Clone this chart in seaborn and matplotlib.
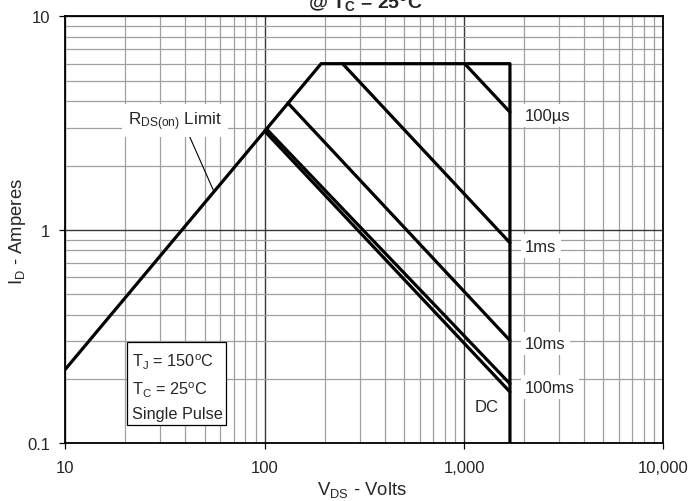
import numpy as np
import pandas as pd
import seaborn as sns
import matplotlib.pyplot as plt
from matplotlib.patches import Rectangle
from matplotlib.ticker import LogLocator, NullFormatter

# Safe operating area outline: R_DS(on) limit, current limit, voltage limit
soa_v = [10, 192, 1700, 1700]
soa_i = [0.222, 6.0, 6.0, 0.1]

# Single pulse lines, from start point down to the voltage limit
pulse_labels = ['100µs', '1ms', '10ms', '100ms', 'DC']
pulse_v_start = [1008, 246, 131, 102, 100]
pulse_i_start = [6.0, 6.0, 3.92, 2.97, 2.90]
pulse_i_end = [3.56, 0.869, 0.303, 0.190, 0.174]
v_max = 1700

x_ticks = [10, 100, 1000, 10000]
x_tick_labels = ['10', '100', '1,000', '10,000']
y_ticks = [0.1, 1, 10]
y_tick_labels = ['0.1', '1', '10']

sns.set_style('ticks')
plt.rcParams['font.family'] = ['Liberation Sans', 'DejaVu Sans']
plt.rcParams['mathtext.fontset'] = 'custom'
plt.rcParams['mathtext.rm'] = 'Liberation Sans'
plt.rcParams['mathtext.it'] = 'Liberation Sans:italic'
plt.rcParams['mathtext.bf'] = 'Liberation Sans:bold'
plt.rcParams['mathtext.default'] = 'rm'

fig = plt.figure(figsize=(6.91, 5.02), dpi=100)
ax = fig.add_axes([0.0945, 0.115, 0.8655, 0.8505])
ax.set_xscale('log')
ax.set_yscale('log')

# outline
soa = pd.DataFrame({'V': soa_v, 'I': soa_i})
sns.lineplot(data=soa, x='V', y='I', sort=False, estimator=None,
             color='black', lw=2.3, ax=ax, zorder=4)

# pulse lines
for lab, v0, i0, i1 in zip(pulse_labels, pulse_v_start, pulse_i_start, pulse_i_end):
    seg = pd.DataFrame({'V': [v0, v_max], 'I': [i0, i1]})
    sns.lineplot(data=seg, x='V', y='I', sort=False, estimator=None,
                 color='black', lw=2.3, ax=ax, zorder=4)
    if lab == 'DC':
        ax.text(v_max * 0.767, i1 * 0.856, lab, ha='center', va='center', fontsize=12)
    else:
        ax.text(v_max * 1.19, i1 * 0.965, lab, ha='left', va='center', fontsize=12,
                bbox=dict(facecolor='white', edgecolor='none', pad=3), zorder=5)

# R_DS(on) label with leader line
ax.text(35.5, 3.25, 'R$_{DS(on)}$ Limit', ha='center', va='center', fontsize=12.3,
        bbox=dict(facecolor='white', edgecolor='none', pad=4), zorder=5)
v_lead = 55.7
i_lead = 10 ** np.interp(np.log10(v_lead), np.log10(soa_v[:2]), np.log10(soa_i[:2]))
ax.annotate('', xy=(v_lead, i_lead), xytext=(41.9, 2.75),
            arrowprops=dict(arrowstyle='-', lw=0.8, color='black', shrinkA=0, shrinkB=0))

# conditions box
ax.add_patch(Rectangle((0.1027, 0.043), 0.1653, 0.1935, transform=ax.transAxes,
                       facecolor='white', edgecolor='black', lw=0.9, zorder=5))
ax.text(0.111, 0.193, 'T$_J$ = 150$^o$C', transform=ax.transAxes, va='center', fontsize=11.7, zorder=6)
ax.text(0.111, 0.127, 'T$_C$ = 25$^o$C', transform=ax.transAxes, va='center', fontsize=11.7, zorder=6)
ax.text(0.111, 0.069, 'Single Pulse', transform=ax.transAxes, va='center', fontsize=11.7, zorder=6)

# axes, ticks and grid
ax.set_xlim(10, 10000)
ax.set_ylim(0.1, 10)
ax.set_xticks(x_ticks, x_tick_labels)
ax.set_yticks(y_ticks, y_tick_labels)
ax.xaxis.set_minor_locator(LogLocator(base=10, subs=np.arange(2, 10)))
ax.yaxis.set_minor_locator(LogLocator(base=10, subs=np.arange(2, 10)))
ax.xaxis.set_minor_formatter(NullFormatter())
ax.yaxis.set_minor_formatter(NullFormatter())
ax.grid(which='minor', color='#a0a0a0', lw=0.9)
ax.grid(which='major', color='#383838', lw=1.0)
ax.set_axisbelow(True)
ax.tick_params(which='minor', length=0)
ax.tick_params(which='major', length=4, width=0.9, direction='out', color='black',
               labelsize=12, bottom=True, left=True)
ax.tick_params(axis='x', pad=8)
ax.tick_params(axis='y', pad=7)
for s in ax.spines.values():
    s.set_visible(True)
    s.set_color('black')
    s.set_linewidth(1.3)

ax.set_xlabel('')
ax.set_ylabel('')
fig.text(0.5235, 0.0139, 'V$_{DS}$ - Volts', ha='center', va='baseline', fontsize=13.3)
fig.text(0.026, 0.538, 'I$_D$ - Amperes', ha='center', va='center', rotation=90, fontsize=13.3)
fig.text(0.529, 0.985, r'@ $\mathbf{T_C}$ = 25$^\mathbf{o}$C', ha='center', va='baseline',
         fontsize=14, weight='bold')

fig.savefig('out.png', dpi=100)
